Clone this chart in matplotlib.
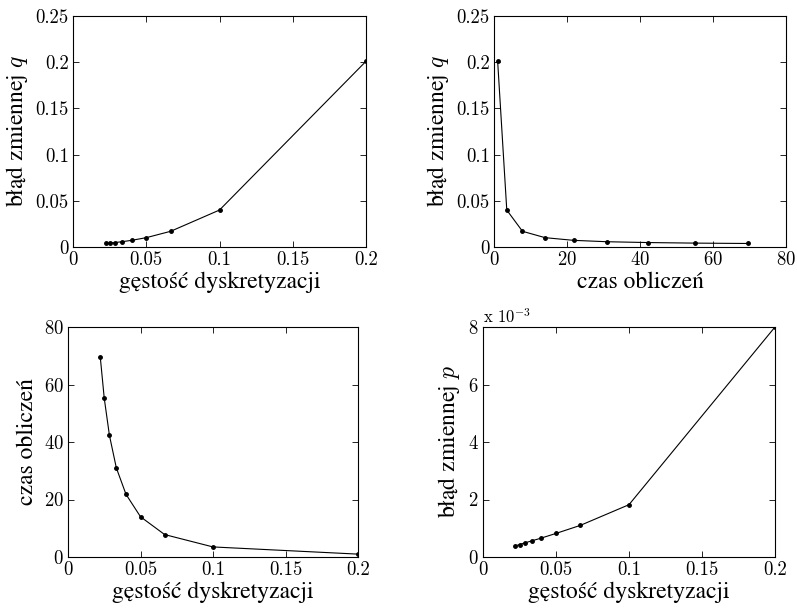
import matplotlib
matplotlib.use("Agg")
import matplotlib.pyplot as plt

# gęstość dyskretyzacji (h = 1/5 ... 1/45)
density = [0.2, 0.1, 1/15, 0.05, 0.04, 1/30, 1/35, 0.025, 1/45]
# czas obliczeń
comp_time = [1.0, 3.5, 7.8, 14.0, 21.8, 31.0, 42.3, 55.2, 69.7]
# błąd zmiennej q
err_q = [0.201, 0.040, 0.017, 0.0101, 0.0072, 0.0057, 0.0048, 0.0042, 0.0038]
# błąd zmiennej p (x 1e-3)
err_p = [8.0, 1.82, 1.10, 0.82, 0.66, 0.56, 0.49, 0.43, 0.39]

# digits in cmr10, words with Polish letters in STIX (cmr10 lacks ł, ą ...)
plt.rcParams["font.family"] = ["cmr10", "DejaVu Serif"]
plt.rcParams["mathtext.fontset"] = "cm"
plt.rcParams["axes.formatter.use_mathtext"] = True
plt.rcParams["axes.linewidth"] = 0.8
label_font = {"family": ["STIXGeneral", "DejaVu Serif"], "size": 17}

fig = plt.figure(figsize=(7.97, 6.09), dpi=100)
W, H = 797, 609

def make_ax(left, top, right, bottom):
    return fig.add_axes([left / W, 1 - bottom / H, (right - left) / W, (bottom - top) / H])

def style(ax):
    ax.tick_params(direction="in", top=True, right=True, length=4, width=0.6,
                   labelsize=13.5, pad=3)
    for s in ax.spines.values():
        s.set_linewidth(0.8)

xlabel = "gęstość dyskretyzacji"
tlabel = "czas obliczeń"

# top-left
ax1 = make_ax(73, 16, 366, 247)
ax1.plot(density, err_q, "k.-", lw=0.8, ms=5)
ax1.set_xlim(0, 0.2)
ax1.set_ylim(0, 0.25)
ax1.set_xticks([0, 0.05, 0.1, 0.15, 0.2])
ax1.set_xticklabels(["0", "0.05", "0.1", "0.15", "0.2"])
ax1.set_yticks([0, 0.05, 0.1, 0.15, 0.2, 0.25])
ax1.set_yticklabels(["0", "0.05", "0.1", "0.15", "0.2", "0.25"])
ax1.set_xlabel(xlabel, fontdict=label_font, labelpad=2)
ax1.set_ylabel("błąd zmiennej $q$", fontdict=label_font, labelpad=4)
style(ax1)

# top-right
ax2 = make_ax(494, 16, 786, 247)
ax2.plot(comp_time, err_q, "k.-", lw=0.8, ms=5)
ax2.set_xlim(0, 80)
ax2.set_ylim(0, 0.25)
ax2.set_xticks([0, 20, 40, 60, 80])
ax2.set_yticks([0, 0.05, 0.1, 0.15, 0.2, 0.25])
ax2.set_yticklabels(["0", "0.05", "0.1", "0.15", "0.2", "0.25"])
ax2.set_xlabel(tlabel, fontdict=label_font, labelpad=2)
ax2.set_ylabel("błąd zmiennej $q$", fontdict=label_font, labelpad=4)
style(ax2)

# bottom-left
ax3 = make_ax(68, 327, 358, 557)
ax3.plot(density, comp_time, "k.-", lw=0.8, ms=5)
ax3.set_xlim(0, 0.2)
ax3.set_ylim(0, 80)
ax3.set_xticks([0, 0.05, 0.1, 0.15, 0.2])
ax3.set_xticklabels(["0", "0.05", "0.1", "0.15", "0.2"])
ax3.set_yticks([0, 20, 40, 60, 80])
ax3.set_xlabel(xlabel, fontdict=label_font, labelpad=2)
ax3.set_ylabel(tlabel, fontdict=label_font, labelpad=4)
style(ax3)

# bottom-right
ax4 = make_ax(483, 327, 775, 557)
ax4.plot(density, err_p, "k.-", lw=0.8, ms=5)
ax4.set_xlim(0, 0.2)
ax4.set_ylim(0, 8)
ax4.set_xticks([0, 0.05, 0.1, 0.15, 0.2])
ax4.set_xticklabels(["0", "0.05", "0.1", "0.15", "0.2"])
ax4.set_yticks([0, 2, 4, 6, 8])
ax4.set_xlabel(xlabel, fontdict=label_font, labelpad=2)
ax4.set_ylabel("błąd zmiennej $p$", fontdict=label_font, labelpad=4)
ax4.text(0.0, 1.005, r"x $10^{-3}$", transform=ax4.transAxes, fontsize=12,
         ha="left", va="bottom")
style(ax4)

fig.savefig("out.png", dpi=100)
